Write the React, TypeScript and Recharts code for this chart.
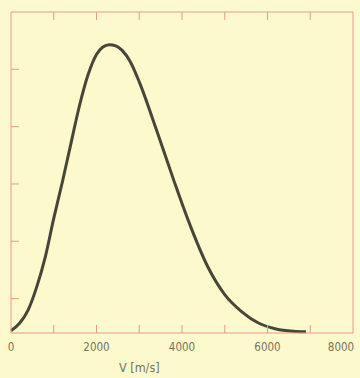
import { LineChart, Line, XAxis, YAxis } from 'recharts';

// velocity (m/s) and relative share of molecules
const speeds = [0, 200, 400, 600, 800, 1000, 1200, 1400, 1600, 1800, 2000, 2150, 2300, 2450, 2600, 2800, 3000, 3400, 3800, 4200, 4600, 5000, 5400, 5800, 6200, 6600, 6900];
const density = [0.04, 0.17, 0.4, 0.8, 1.32, 2.0, 2.63, 3.3, 3.96, 4.5, 4.86, 4.99, 5.03, 5.01, 4.93, 4.72, 4.38, 3.55, 2.68, 1.86, 1.16, 0.67, 0.37, 0.17, 0.07, 0.03, 0.02];

const xTicks = [0, 1000, 2000, 3000, 4000, 5000, 6000, 7000, 8000];
const xLabels = [0, 2000, 4000, 6000, 8000];
const yTicks = [0.6, 1.6, 2.6, 3.6, 4.6];

const data = speeds.map((v, i) => ({ v, f: density[i] }));

const FRAME = '#e89a8c';
const INK = '#46463a';
const TEXT = '#75735f';
const BG = '#fcf9cc';
const TICK = 8;
const FONT = "'DejaVu Sans Condensed', 'DejaVu Sans', sans-serif";

const BottomTick = (props: any) => {
  const { x, y, payload, index } = props;
  const val = payload.value;
  const last = index === xTicks.length - 1;
  return (
    <g>
      {val > 0 && !last && <line x1={x} x2={x} y1={y} y2={y - TICK} stroke={FRAME} strokeWidth={1} />}
      {xLabels.includes(val) && (
        <text x={last ? x - 12 : x} y={y + 18} textAnchor="middle" fill={TEXT} fontSize={11.5} fontFamily={FONT}>
          {val}
        </text>
      )}
    </g>
  );
};

const TopTick = (props: any) => {
  const { x, y, payload } = props;
  if (payload.value === 0 || payload.value === 8000) return <g />;
  return <line x1={x} x2={x} y1={y} y2={y + TICK} stroke={FRAME} strokeWidth={1} />;
};

const LeftTick = (props: any) => {
  const { x, y } = props;
  return <line x1={x} x2={x + TICK} y1={y} y2={y} stroke={FRAME} strokeWidth={1} />;
};

const RightTick = (props: any) => {
  const { x, y } = props;
  return <line x1={x} x2={x - TICK} y1={y} y2={y} stroke={FRAME} strokeWidth={1} />;
};

const AxisTitle = (props: any) => {
  const vb = props.viewBox || { x: 11, y: 333, width: 342 };
  return (
    <text x={vb.x + 108} y={vb.y + 39} fill={TEXT} fontSize={12.5} fontFamily={FONT}>
      V  [m/s]
    </text>
  );
};

export default function App() {
  return (
    <div style={{ width: 360, height: 378, background: BG }}>
      <style>{'body{margin:0}'}</style>
      <LineChart width={360} height={378} data={data} margin={{ top: 0, right: 0, left: 0, bottom: 0 }}>
        <XAxis xAxisId="b" dataKey="v" type="number" domain={[0, 8000]} ticks={xTicks}
          height={45} tickSize={0} tickMargin={0} tickLine={false} interval={0}
          axisLine={{ stroke: FRAME }} tick={<BottomTick />} label={<AxisTitle />} />
        <XAxis xAxisId="t" orientation="top" dataKey="v" type="number" domain={[0, 8000]} ticks={xTicks}
          height={12} tickSize={0} tickMargin={0} tickLine={false} interval={0}
          axisLine={{ stroke: FRAME }} tick={<TopTick />} />
        <YAxis yAxisId="l" type="number" domain={[0, 5.6]} ticks={yTicks} width={11}
          tickSize={0} tickMargin={0} tickLine={false} interval={0}
          axisLine={{ stroke: FRAME }} tick={<LeftTick />} />
        <YAxis yAxisId="r" orientation="right" type="number" domain={[0, 5.6]} ticks={yTicks} width={7}
          tickSize={0} tickMargin={0} tickLine={false} interval={0}
          axisLine={{ stroke: FRAME }} tick={<RightTick />} />
        <Line xAxisId="b" yAxisId="l" type="monotone" dataKey="f" stroke={INK} strokeWidth={3}
          dot={false} isAnimationActive={false} />
      </LineChart>
    </div>
  );
}
